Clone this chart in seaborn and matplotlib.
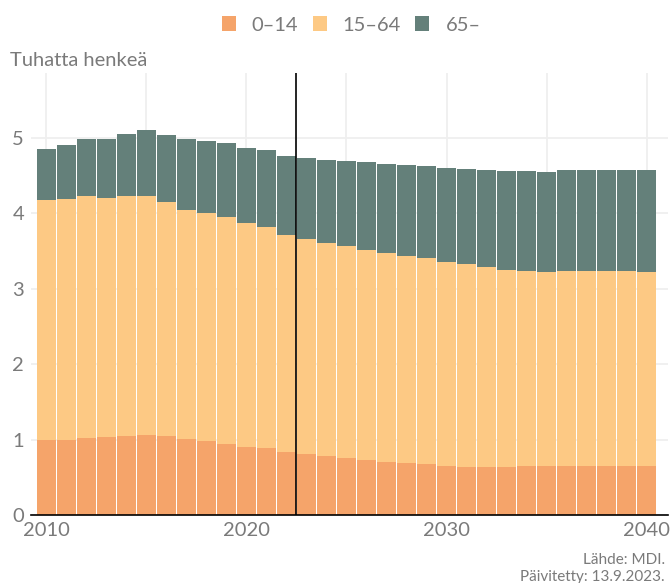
import matplotlib
matplotlib.use("Agg")
import matplotlib.pyplot as plt
from matplotlib.patches import Patch
from matplotlib.ticker import FixedLocator
import seaborn as sns
import pandas as pd

# ---- data (thousands of people) ----
years = list(range(2010, 2041))
age_0_14 = [0.99, 0.99, 1.02, 1.03, 1.05, 1.06, 1.05, 1.01, 0.98, 0.94,
            0.90, 0.89, 0.84, 0.81, 0.78, 0.76, 0.73, 0.70, 0.69, 0.68,
            0.65, 0.64, 0.64, 0.64, 0.65, 0.65, 0.65, 0.65, 0.65, 0.65, 0.65]
age_15_64 = [3.19, 3.20, 3.21, 3.17, 3.18, 3.17, 3.10, 3.04, 3.03, 3.01,
             2.97, 2.93, 2.87, 2.85, 2.83, 2.81, 2.78, 2.77, 2.74, 2.73,
             2.71, 2.69, 2.65, 2.61, 2.59, 2.57, 2.59, 2.59, 2.59, 2.59, 2.57]
age_65 = [0.67, 0.72, 0.76, 0.79, 0.82, 0.88, 0.89, 0.94, 0.95, 0.98,
          1.00, 1.02, 1.05, 1.07, 1.10, 1.12, 1.17, 1.19, 1.21, 1.22,
          1.24, 1.26, 1.29, 1.31, 1.32, 1.33, 1.34, 1.34, 1.34, 1.34, 1.36]
series_labels = ["0\u201314", "15\u201364", "65\u2013"]
forecast_start = 2022.5
x_tick_labels = [2010, 2020, 2030, 2040]
y_ticks = [0, 1, 2, 3, 4, 5]
y_label = "Tuhatta henkeä"
source_lines = ["Lähde: MDI.", "Päivitetty: 13.9.2023."]

colors = ["#F5A46A", "#FDC984", "#64807A"]
TXT = "#7a7a7a"

df = pd.DataFrame({"year": years, "a": age_0_14, "b": age_15_64, "c": age_65})
df["cum1"] = df["a"]
df["cum2"] = df["a"] + df["b"]
df["cum3"] = df["a"] + df["b"] + df["c"]

sns.set_theme(style="white")
plt.rcParams["font.family"] = ["Lato", "DejaVu Sans"]

fig = plt.figure(figsize=(6.72, 5.83), dpi=100)
ax = fig.add_axes([31 / 672, 68 / 583, 637 / 672, 442 / 583])

for col, c in zip(["cum3", "cum2", "cum1"], [colors[2], colors[1], colors[0]]):
    sns.barplot(data=df, x="year", y=col, native_scale=True, color=c,
                width=0.95, linewidth=0, saturation=1, ax=ax, zorder=2)

ax.axvline(forecast_start, color="black", lw=1.2, zorder=3)

ax.set_xlim(2009.25, 2041.05)
ax.set_ylim(0, 5.86)
ax.set_xticks(x_tick_labels)
ax.set_xticklabels([str(v) for v in x_tick_labels])
ax.xaxis.set_minor_locator(FixedLocator([2015, 2025, 2035]))
ax.set_yticks(y_ticks)
ax.grid(True, which="both", color="#efefef", lw=1.3, zorder=0)
ax.set_axisbelow(True)
ax.set_xlabel("")
ax.set_ylabel("")
for s in ["top", "right", "left"]:
    ax.spines[s].set_visible(False)
ax.spines["bottom"].set_color("black")
ax.spines["bottom"].set_linewidth(1.2)
ax.spines["bottom"].set_zorder(4)
ax.tick_params(axis="both", length=0, labelsize=14.5, labelcolor=TXT)
ax.tick_params(axis="y", pad=5)
ax.tick_params(axis="x", pad=5)

fig.text(10 / 672, 1 - 61 / 583, y_label, fontsize=14.5, color=TXT,
         ha="left", va="center")

handles = [Patch(facecolor=c, edgecolor="none") for c in colors]
fig.legend(handles, series_labels, loc="center", bbox_to_anchor=(351 / 672, 1 - 25 / 583),
           ncol=3, frameon=False, fontsize=14.5, labelcolor=TXT,
           handlelength=0.7, handleheight=0.7, handletextpad=0.8,
           columnspacing=0.7)

fig.text(665 / 672, 1 - 560 / 583, source_lines[0], fontsize=11, color=TXT,
         ha="right", va="center")
fig.text(665 / 672, 1 - 577 / 583, source_lines[1], fontsize=11, color=TXT,
         ha="right", va="center")

fig.savefig("out.png", dpi=100)
